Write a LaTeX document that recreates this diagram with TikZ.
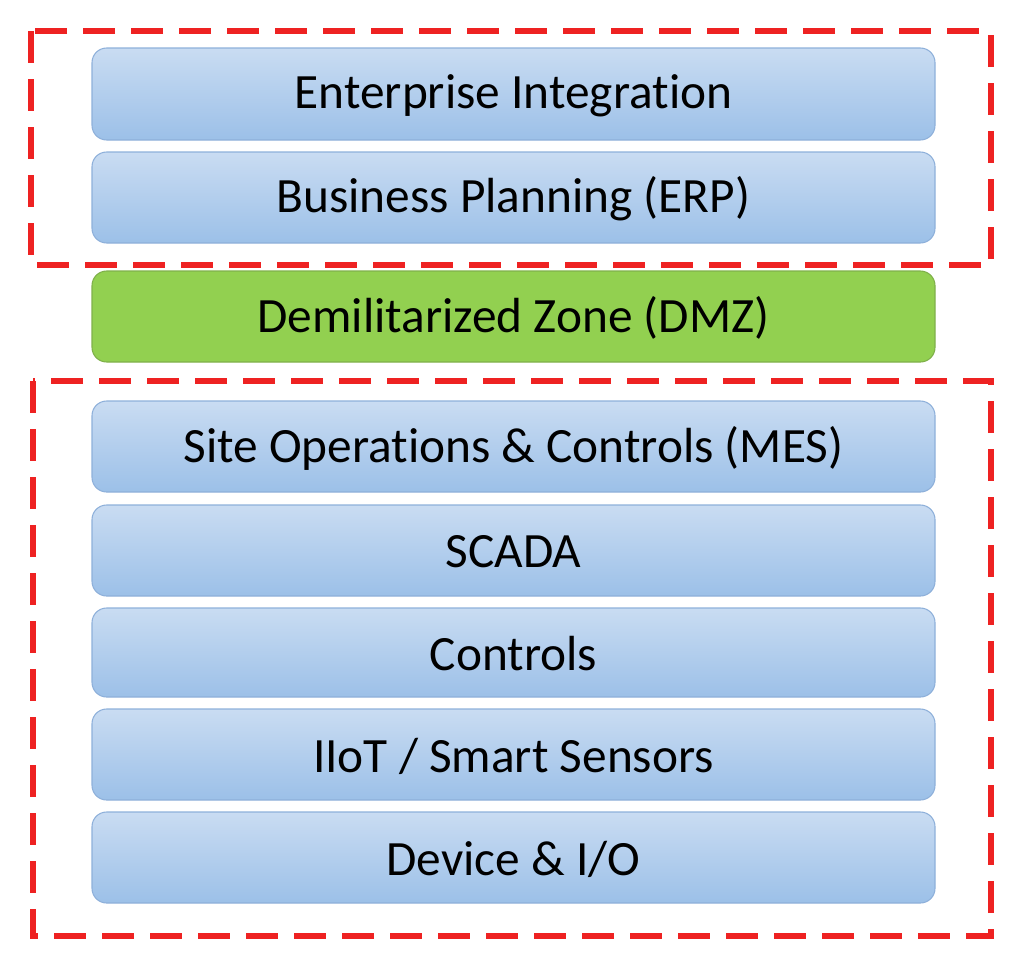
\documentclass[tikz,border=0pt]{standalone}
\usepackage{fontspec}
\setmainfont[Ligatures=NoCommon]{Carlito}
\definecolor{btop}{HTML}{C9DCF2}
\definecolor{bbot}{HTML}{9CC0E8}
\definecolor{bline}{HTML}{8EB0DA}
\definecolor{dmz}{HTML}{92D050}
\definecolor{dmzline}{HTML}{7FB04A}
\definecolor{zone}{HTML}{EE2222}
\begin{document}
\begin{tikzpicture}[x=0.75pt,y=-0.75pt,
 layer/.style={rounded corners=11pt,draw=bline,line width=0.8pt,top color=btop,bottom color=bbot},
 dmzbox/.style={rounded corners=11pt,draw=dmzline,line width=0.8pt,fill=dmz},
 lbl/.style={font=\fontsize{37}{44}\selectfont,text=black},
 zonebox/.style={draw=zone,line width=4pt,dash pattern=on 24pt off 12pt}]
\useasboundingbox (0,0) rectangle (1024,967);
\draw[zonebox] (31,31) rectangle (991,265);
\draw[zonebox] (33,381) rectangle (991,936);
\foreach \a/\b in {48/140,152/243,401/492,505/596,608/697,709/800,812/903}{
 \draw[layer] (92,\a) rectangle (935,\b);
}
\draw[dmzbox] (92,271) rectangle (935,362);
\node[lbl] (ei) at (513.5,96) {Enterprise Integration};
\node[lbl] (bp) at (513.5,199) {Business Planning (ERP)};
\node[lbl] (dz) at (513.5,318) {Demilitarized Zone (DMZ)};
\node[lbl] (so) at (513.5,448) {Site Operations \& Controls (MES)};
\node[lbl] (sc) at (513.5,552) {SCADA};
\node[lbl] (co) at (513.5,654) {Controls};
\node[lbl] (ii) at (513.5,756) {IIoT / Smart Sensors};
\node[lbl] (de) at (513.5,859) {Device \& I/O};
\end{tikzpicture}
\end{document}
